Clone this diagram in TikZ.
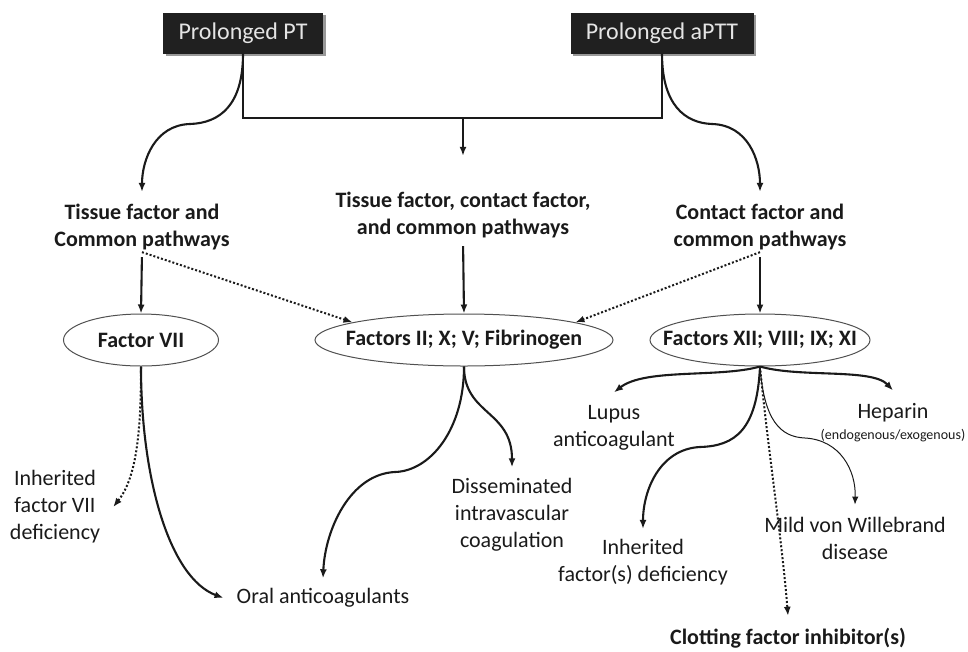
\documentclass[tikz,border=0pt]{standalone}
\usepackage{fontspec}
\setmainfont{Carlito}
\usetikzlibrary{arrows.meta,shapes.geometric,shadows}
\definecolor{ink}{HTML}{1A1A1A}
\definecolor{boxfill}{HTML}{202020}
\definecolor{boxtext}{HTML}{E4E4E4}
\definecolor{ellline}{HTML}{505050}
\begin{document}
\begin{tikzpicture}[x=1pt,y=-1pt,
  topbox/.style={fill=boxfill, text=boxtext, font=\fontsize{24}{28}\selectfont,
    minimum height=41pt, inner sep=0pt,
    drop shadow={shadow xshift=2.5pt, shadow yshift=-2.5pt, fill=black!40, opacity=1}},
  lbl/.style={align=center, text=ink, font=\bfseries\fontsize{22}{27}\selectfont, inner sep=2pt},
  txt/.style={align=center, text=ink, font=\fontsize{22}{27}\selectfont, inner sep=2pt},
  note/.style={align=center, text=ink, font=\fontsize{14}{16}\selectfont, inner sep=1pt},
  ell/.style={ellipse, draw=ellline, line width=1pt, inner sep=0pt, minimum height=52pt},
  arr/.style={-{Latex[length=9pt,width=7pt]}, line width=2.1pt, draw=ink},
  thinarr/.style={-{Latex[length=8pt,width=6.5pt]}, line width=1pt, draw=ink},
  dotarr/.style={-{Latex[length=9pt,width=7pt]}, line width=2pt, draw=ink, dash pattern=on 2pt off 2pt},
  bar/.style={line width=2.5pt, draw=ink}]
\useasboundingbox (0,0) rectangle (968,651);

% top boxes
\node[topbox, minimum width=160pt] (pt) at (243,33) {Prolonged PT};
\node[topbox, minimum width=183pt] (aptt) at (662,33) {Prolonged aPTT};
\coordinate (hb) at (463,118);

% pathway labels
\node[lbl] (tf) at (142,227) {Tissue factor and\\Common pathways};
\node[lbl] (tcc) at (463,215) {Tissue factor, contact factor,\\and common pathways};
\node[lbl] (cf) at (760,227) {Contact factor and\\common pathways};

% ellipses
\node[ell, minimum width=155pt, label={[lbl]center:Factor VII}] (f7) at (141,340) {};
\node[ell, minimum width=298pt, label={[lbl]center:Factors II; X; V; Fibrinogen}] (f2) at (464,340) {};
\node[ell, minimum width=220pt, label={[lbl]center:Factors XII; VIII; IX; XI}] (f12) at (760,340) {};

% bottom labels
\node[txt] (inh7) at (55,507) {Inherited\\factor VII\\deficiency};
\node[txt] (oral) at (323,598) {Oral anticoagulants};
\node[txt] (dic) at (512,515) {Disseminated\\intravascular\\coagulation};
\node[txt] (lupus) at (614,428) {Lupus\\anticoagulant};
\node[txt] (hep) at (893,413) {Heparin};
\node[note] (hepn) at (893,436) {(endogenous/exogenous)};
\node[txt] (vwd) at (855,538) {Mild von Willebrand\\disease};
\node[txt] (inh) at (643,562) {Inherited\\factor(s) deficiency};
\node[lbl] (clot) at (788,638) {Clotting factor inhibitor(s)};

% top connectors
\draw[bar] (pt.south) |- (hb) -| (aptt.south);
\draw[arr] (hb) -- ([yshift=34pt]tcc.north);
\draw[arr] (pt.south) .. controls (243,105) and (220,123) .. (190,124)
  .. controls (155,125) and (142,160) .. ([yshift=10pt]tf.north);
\draw[arr] (aptt.south) .. controls (662,105) and (685,123) .. (712,124)
  .. controls (748,125) and (760,160) .. ([yshift=10pt]cf.north);

% pathway to factors
\draw[arr, shorten <=5pt] (tf.south) -- (f7.north);
\draw[arr, shorten <=6pt] (tcc.south) -- (f2.north);
\draw[arr, shorten <=5pt] (cf.south) -- (f12.north);
\draw[dotarr] (tf.south) -- (f2.171);
\draw[dotarr] (cf.south) -- (f2.9);

% from Factor VII
\draw[dotarr] (f7.south) .. controls (141,435) and (136,478) .. ([xshift=11pt]inh7.east);
\draw[arr] (f7.south) .. controls (141,480) and (170,578) .. ([xshift=-11pt]oral.west);

% from Factors II
\draw[arr] (f2.south) .. controls (464,430) and (430,471) .. (395,472)
  .. controls (350,474) and (325,530) .. ([yshift=8pt]oral.north);
\draw[arr] (f2.south) .. controls (464,415) and (512,410) .. ([yshift=9pt]dic.north);

% from Factors XII
\draw[arr] (f12.south) .. controls (720,378) and (645,368) .. ([yshift=11pt]lupus.north);
\draw[arr] (f12.south) .. controls (800,378) and (872,368) .. ([yshift=11pt]hep.north);
\draw[arr] (f12.south) .. controls (757,430) and (735,446) .. (700,447)
  .. controls (660,449) and (643,490) .. ([yshift=8pt]inh.north);
\draw[thinarr] (f12.south) .. controls (764,420) and (780,437) .. (805,438)
  .. controls (840,440) and (856,470) .. ([yshift=10pt]vwd.north);
\draw[dotarr] (f12.south) .. controls (768,450) and (782,540) .. ([yshift=10pt]clot.north);
\end{tikzpicture}
\end{document}
